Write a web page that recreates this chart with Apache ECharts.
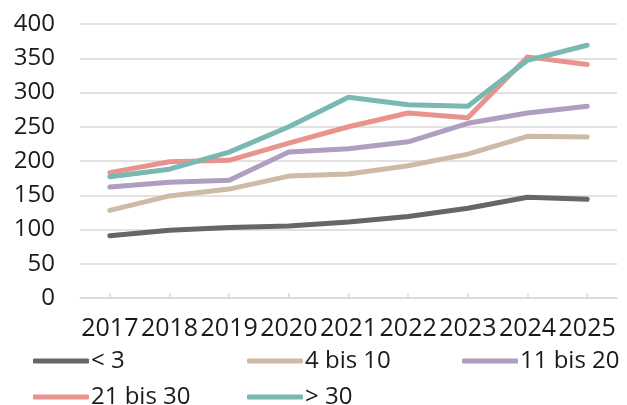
<!DOCTYPE html>
<html>
<head>
<meta charset="utf-8">
<script src="https://cdn.jsdelivr.net/npm/echarts@6/dist/echarts.min.js"></script>
<style>
  html, body { margin: 0; padding: 0; background: #fff; }
  #chart { width: 627px; height: 405px; }
</style>
</head>
<body>
<div id="chart"></div>
<script>
const years = ['2017', '2018', '2019', '2020', '2021', '2022', '2023', '2024', '2025']
const seriesNames = ['< 3', '4 bis 10', '11 bis 20', '21 bis 30', '> 30']
const lt3 = [91, 99, 103, 105, 111, 119, 131, 147, 144]
const from4to10 = [128, 149, 159, 178, 181, 193, 210, 236, 235]
const from11to20 = [162, 169, 172, 213, 218, 228, 255, 270, 280]
const from21to30 = [183, 199, 201, 226, 250, 270, 263, 352, 341]
const gt30 = [177, 188, 213, 250, 293, 282, 280, 347, 369]
const colors = ['#666666', '#cdbba7', '#ae9ebf', '#e8938d', '#7ab8b2']

const values = [lt3, from4to10, from11to20, from21to30, gt30]
const font = 'Open Sans'

const chart = echarts.init(document.getElementById('chart'))

const series = seriesNames.map((name, i) => ({
  name,
  type: 'line',
  data: values[i],
  showSymbol: false,
  symbol: 'none',
  lineStyle: { color: colors[i], width: 5, cap: 'round', join: 'round' },
  itemStyle: { color: colors[i] },
}))

// legend in two rows, fixed columns
const legendPos = [
  { left: 33, top: 349 },
  { left: 247, top: 349 },
  { left: 462, top: 349 },
  { left: 33, top: 385 },
  { left: 247, top: 385 },
]

const legends = seriesNames.map((name, i) => ({
  data: [name],
  left: legendPos[i].left,
  top: legendPos[i].top,
  padding: 0,
  icon: 'roundRect',
  itemWidth: 56,
  itemHeight: 5,
  itemGap: 0,
  textStyle: { fontFamily: font, fontSize: 24, color: '#1a1a1a', padding: [0, 0, 0, -3] },
}))

chart.setOption({
  animation: false,
  grid: { left: 80, right: 10, top: 24, bottom: 107 },
  legend: legends,
  xAxis: {
    type: 'category',
    data: years,
    boundaryGap: true,
    axisLine: { lineStyle: { color: '#d9d9d9', width: 1.5 } },
    axisTick: { show: true, alignWithLabel: true, inside: true, length: 5, lineStyle: { color: '#d9d9d9', width: 1.5 } },
    axisLabel: { fontFamily: font, fontSize: 25, color: '#1a1a1a', margin: 18, interval: 0 },
  },
  yAxis: {
    type: 'value',
    min: 0,
    max: 400,
    interval: 50,
    axisLine: { show: false },
    axisTick: { show: false },
    axisLabel: { fontFamily: font, fontSize: 24, color: '#1a1a1a', margin: 25 },
    splitLine: { lineStyle: { color: '#d9d9d9', width: 1.5 } },
  },
  series,
})
</script>
</body>
</html>
